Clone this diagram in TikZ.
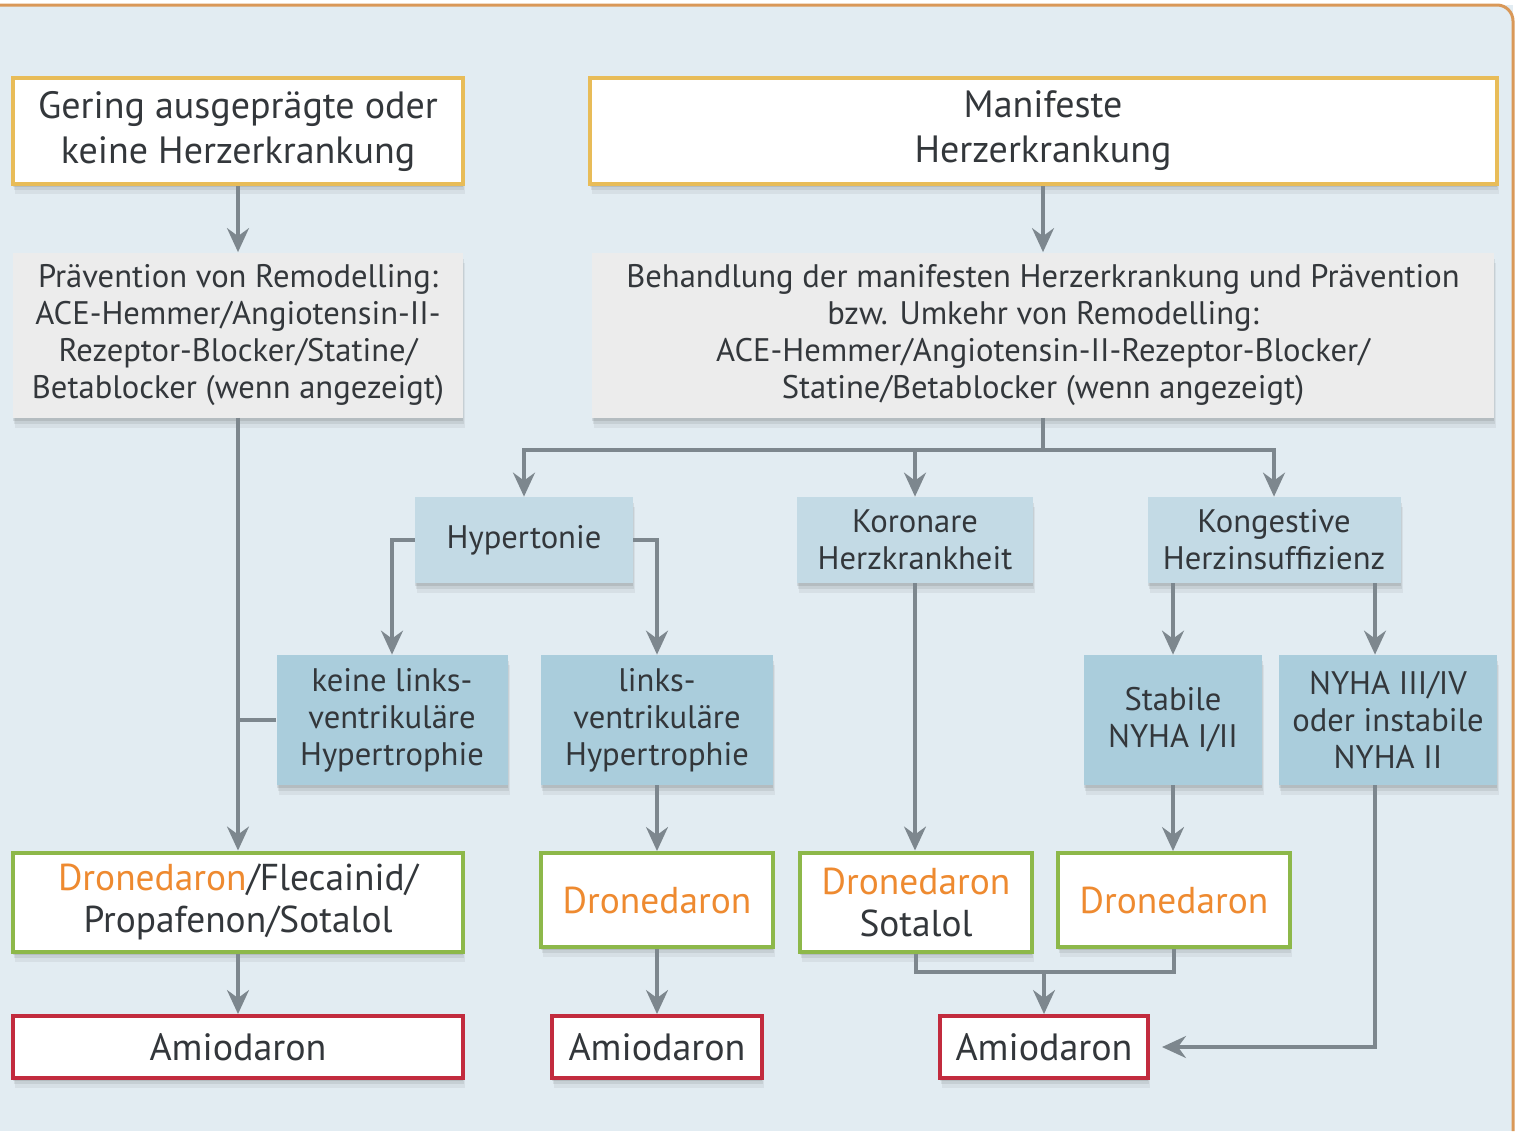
\documentclass[tikz,border=0pt]{standalone}
\usepackage{fontspec}
\setmainfont{PT Sans}
\usetikzlibrary{arrows.meta}

\definecolor{bg}{HTML}{E2ECF2}
\definecolor{frameorange}{HTML}{D99858}
\definecolor{gold}{HTML}{E8BC58}
\definecolor{boxgray}{HTML}{ECECEC}
\definecolor{blueA}{HTML}{C3DAE5}
\definecolor{blueB}{HTML}{AACDDC}
\definecolor{greenline}{HTML}{8DB84A}
\definecolor{redline}{HTML}{C22B3E}
\definecolor{orangetext}{HTML}{EE8A30}
\definecolor{linegray}{HTML}{7D878E}
\definecolor{textdark}{HTML}{33373B}

\tikzset{
  softshadow/.style={
    preaction={fill=black,opacity=0.05,transform canvas={xshift=1pt,yshift=-5pt}},
    preaction={fill=black,opacity=0.07,transform canvas={xshift=0.5pt,yshift=-3pt}},
    preaction={fill=black,opacity=0.09,transform canvas={yshift=-1.5pt}}},
  basebox/.style={inner sep=0pt, align=center, text=textdark, softshadow},
  topbox/.style={basebox, draw=gold, line width=2pt, fill=white,
    minimum height=53pt, font=\fontsize{19pt}{22.5pt}\selectfont},
  graybox/.style={basebox, fill=boxgray, minimum height=82.5pt,
    font=\fontsize{16.3pt}{18.5pt}\selectfont},
  bluebox/.style={basebox, fill=blueA, minimum height=43pt,
    font=\fontsize{16.3pt}{18.5pt}\selectfont},
  lowbox/.style={basebox, fill=blueB, minimum height=65pt,
    font=\fontsize{16.3pt}{18.5pt}\selectfont},
  greenbox/.style={basebox, draw=greenline, line width=2pt, fill=white,
    font=\fontsize{18.7pt}{21pt}\selectfont},
  redbox/.style={basebox, draw=redline, line width=2pt, fill=white,
    minimum height=31pt, font=\fontsize{19pt}{21pt}\selectfont},
  conn/.style={draw=linegray, line width=1.6pt},
  arr/.style={conn, -{Stealth[length=12pt, width=11pt, inset=4pt]}},
}
\newcommand{\dron}{\textcolor{orangetext}{Dronedaron}}

\begin{document}
\begin{tikzpicture}[x=0.5pt, y=-0.5pt]
\useasboundingbox (0,0) rectangle (1518,1131);
% background panel and frame
\fill[bg] (0,5) rectangle (1513,1131);
\draw[frameorange, line width=1.5pt, rounded corners=8pt] (0,5) -- (1513,5) -- (1513,1131);

% top level
\node[topbox, minimum width=225pt] (a) at (238,131) {Gering ausgeprägte oder\\keine Herzerkrankung};
\node[topbox, minimum width=453.5pt] (b) at (1043,131) {Manifeste\\Herzerkrankung};

% prevention / treatment
\node[graybox, minimum width=225pt] (c) at (238,335)
  {Prävention von Remodelling:\\ACE-Hemmer/Angiotensin-II-\\Rezeptor-Blocker/Statine/\\Betablocker (wenn angezeigt)};
\node[graybox, minimum width=451pt] (d) at (1043,335)
  {Behandlung der manifesten Herzerkrankung und Prävention\\bzw. Umkehr von Remodelling:\\ACE-Hemmer/Angiotensin-II-Rezeptor-Blocker/\\Statine/Betablocker (wenn angezeigt)};

% underlying conditions
\node[bluebox, minimum width=109pt] (hyp) at (524,540) {Hypertonie};
\node[bluebox, minimum width=118pt] (khk) at (915,540) {Koronare\\Herzkrankheit};
\node[bluebox, minimum width=126.5pt] (kong) at (1274,540) {Kongestive\\Herzinsuffizienz};

% sub-conditions
\node[lowbox, minimum width=115.5pt] (keine) at (392,720) {keine links-\\ventrikuläre\\Hypertrophie};
\node[lowbox, minimum width=116pt] (links) at (657,720) {links-\\ventrikuläre\\Hypertrophie};
\node[lowbox, minimum width=89pt] (stab) at (1173,720) {Stabile\\NYHA I/II};
\node[lowbox, minimum width=109pt] (nyha) at (1388,720) {NYHA III/IV\\oder instabile\\NYHA II};

% first-line drugs
\node[greenbox, minimum width=225pt, minimum height=49.5pt] (g1) at (238,902) {\dron/Flecainid/\\Propafenon/Sotalol};
\node[greenbox, minimum width=116pt, minimum height=47pt] (g2) at (657,900) {\dron};
\node[greenbox, minimum width=116pt, minimum height=49.5pt] (g3) at (916,902) {\dron\\Sotalol};
\node[greenbox, minimum width=116pt, minimum height=47pt] (g4) at (1174,900) {\dron};

% second-line drug
\node[redbox, minimum width=225pt] (r1) at (238,1047) {Amiodaron};
\node[redbox, minimum width=105pt] (r2) at (657,1047) {Amiodaron};
\node[redbox, minimum width=104pt] (r3) at (1044,1047) {Amiodaron};

% connectors
\coordinate (bus) at (0,450);
\coordinate (join) at (1044,972);
\draw[arr] (a) -- (c);
\draw[arr] (b) -- (d);
\draw[arr] (c.south) -- (g1.north);
\draw[conn] (keine.west) -- (c.south |- keine.west);
\draw[conn] (d.south) -- (d.south |- bus);
\draw[arr] (d.south |- bus) -| (hyp.north);
\draw[arr] (d.south |- bus) -| (kong.north);
\draw[arr] (khk.north |- bus) -- (khk.north);
\draw[arr] (hyp.west) -| (keine.north);
\draw[arr] (hyp.east) -| (links.north);
\draw[arr] (khk.south) -- (khk.south |- g3.north);
\draw[arr] (stab.north |- kong.south) -- (stab.north);
\draw[arr] ([xshift=-6.5pt]nyha.north |- kong.south) -- ([xshift=-6.5pt]nyha.north);
\draw[arr] (links) -- (g2);
\draw[arr] (stab.south) -- (stab.south |- g4.north);
\draw[arr, shorten >=6pt] ([xshift=-6.5pt]nyha.south) |- (r3.east);
\draw[arr] (g1) -- (r1);
\draw[arr] (g2) -- (r2);
\draw[conn] (g3.south) |- (join) -| (g4.south);
\draw[arr] (join) -- (r3.north);
\end{tikzpicture}
\end{document}
